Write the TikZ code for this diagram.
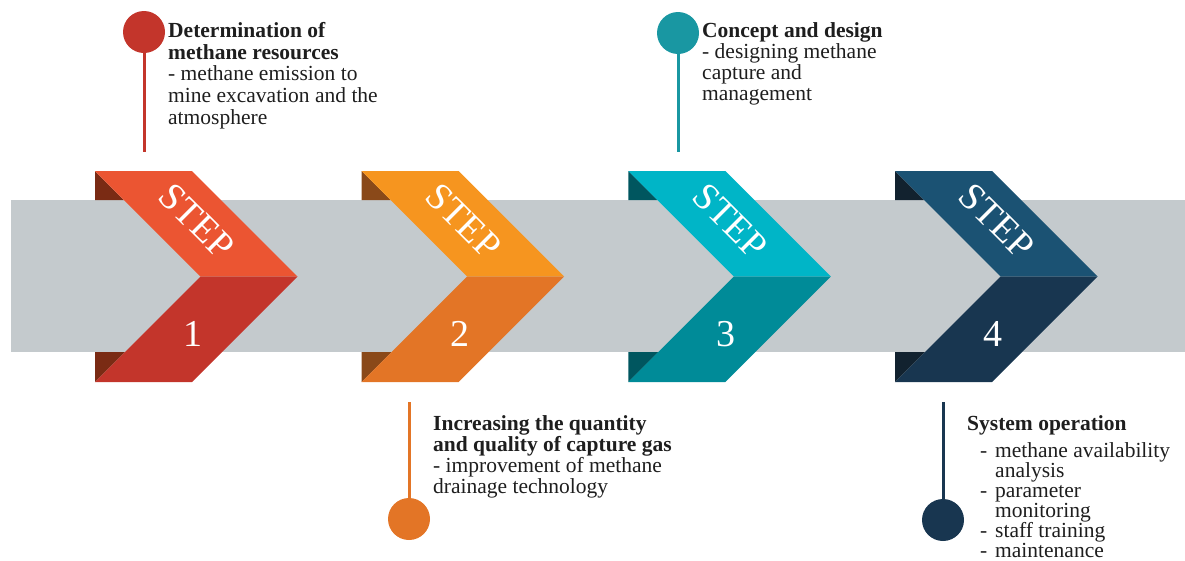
\documentclass[tikz,border=0pt]{standalone}
\usepackage{fontspec}
\setmainfont{Liberation Serif}
\usepackage{tikz}
\usetikzlibrary{positioning}

\definecolor{redA}{HTML}{EB5532}
\definecolor{redB}{HTML}{C3352B}
\definecolor{redC}{HTML}{7A2B14}
\definecolor{orA}{HTML}{F6951F}
\definecolor{orB}{HTML}{E37526}
\definecolor{orC}{HTML}{8A4919}
\definecolor{tlA}{HTML}{00B5C7}
\definecolor{tlB}{HTML}{008B98}
\definecolor{tlC}{HTML}{00565F}
\definecolor{nvA}{HTML}{1B5273}
\definecolor{nvB}{HTML}{183650}
\definecolor{nvC}{HTML}{12222F}
\definecolor{band}{HTML}{C4CACD}
\definecolor{ink}{HTML}{1E1E1E}

\newcommand{\litem}{\hspace*{13pt}\makebox[15pt][l]{-}}
\newcommand{\lcont}{\hspace*{28pt}}

\tikzset{
  steplabel/.style={text=white, inner sep=0pt, font=\fontsize{38}{38}\selectfont},
  numlabel/.style={text=white, inner sep=0pt, font=\fontsize{38}{38}\selectfont},
  dot/.style={circle, minimum size=42pt, inner sep=0pt},
  stem/.style={line width=3pt},
  info/.style={align=left, inner sep=0pt, anchor=north west, text=ink,
               font=\fontsize{21.5}{21}\selectfont}
}

\begin{document}
\begin{tikzpicture}[x=1pt, y=-1pt]
\useasboundingbox (0,0) rectangle (1185,560);

% grey band
\fill[band] (11,200) rectangle (1185,352);

% chevrons
\foreach \i/\x/\ca/\cb/\cc in {1/95/redA/redB/redC, 2/361.7/orA/orB/orC,
                                3/628.3/tlA/tlB/tlC, 4/895/nvA/nvB/nvC}{
  \fill[\cc] (\x,171) -- ({\x+29},200) -- (\x,200) -- cycle;
  \fill[\cc] (\x,352) -- ({\x+30},352) -- (\x,382) -- cycle;
  \fill[\ca] (\x,171) -- ({\x+97},171) -- ({\x+202.5},276.5) -- ({\x+105.5},276.5) -- cycle;
  \fill[\cb] ({\x+105.5},276.5) -- ({\x+202.5},276.5) -- ({\x+97},382) -- (\x,382) -- cycle;
  \node (S\i) [steplabel, rotate=-45] at ({\x+102},221) {STEP};
  \node (N\i) [numlabel] at ({\x+98},334) {\i};
}

% markers
\node (C1) [dot, fill=redB] at (144,32) {};
\node (C2) [dot, fill=orB] at (409,519) {};
\node (C3) [dot, fill=tlB!90!white] at (678,33) {};
\node (C4) [dot, fill=nvB] at (943,520) {};
\coordinate (E1) at (144,152);
\coordinate (E2) at (409,402);
\coordinate (E3) at (678,152);
\coordinate (E4) at (943,402);

\draw[stem, redB] (C1) -- (E1);
\draw[stem, orB] (C2) -- (E2);
\draw[stem, tlB!90!white] (C3) -- (E3);
\draw[stem, nvB] (C4) -- (E4);

% texts
\node (T1) [info, font=\fontsize{21.5}{21.7}\selectfont] at (168,22) {\textbf{Determination of}\\
  \textbf{methane resources}\\ - methane emission to\\ mine excavation and the\\ atmosphere};
\node (T2) [info] at (433,415) {\textbf{Increasing the quantity}\\
  \textbf{and quality of capture gas}\\ - improvement of methane\\ drainage technology};
\node (T3) [info] at (702,22) {\textbf{Concept and design}\\ - designing methane\\
  capture and\\ management};
\node (T4) [info, font=\fontsize{21.5}{20}\selectfont] at (967,415) {\textbf{System operation}\\[7pt]
  \litem methane availability\\ \lcont analysis\\ \litem parameter\\ \lcont monitoring\\
  \litem staff training\\ \litem maintenance};

\end{tikzpicture}
\end{document}
